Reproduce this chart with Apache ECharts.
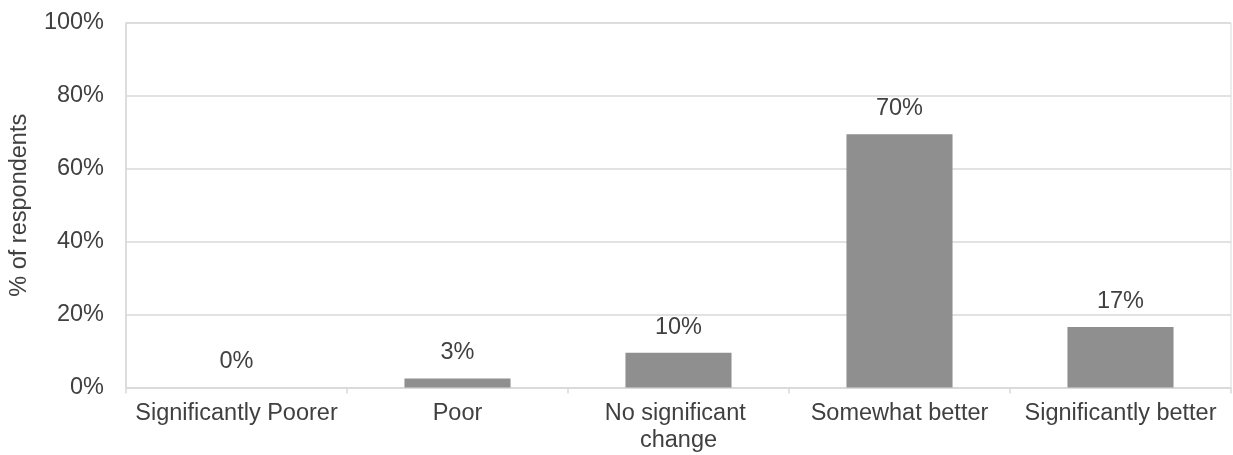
<!DOCTYPE html>
<html>
<head>
<meta charset="utf-8">
<script src="https://cdn.jsdelivr.net/npm/echarts@6/dist/echarts.min.js"></script>
<style>
  html, body { margin: 0; padding: 0; background: #ffffff; }
  #chart { width: 1233px; height: 455px; }
</style>
</head>
<body>
<div id="chart"></div>
<script>
// Survey responses: share of respondents per rating
const categories = ['Significantly Poorer', 'Poor', 'No significant change', 'Somewhat better', 'Significantly better'];
const shares = [0, 2.5, 9.5, 69.5, 16.6];
const yTicks = [0, 20, 40, 60, 80, 100];

const FONT = '"Liberation Sans", Arial, sans-serif';
const TEXT = '#404040';
const LINE = '#d9d9d9';

const chart = echarts.init(document.getElementById('chart'), null, { renderer: 'canvas' });

chart.setOption({
  animation: false,
  backgroundColor: '#ffffff',
  grid: {
    left: 123.5, right: 2, top: 23, bottom: 67.5,
    show: true, borderColor: LINE, borderWidth: 1
  },
  xAxis: {
    type: 'category',
    data: categories,
    boundaryGap: true,
    axisLine: { show: true, lineStyle: { color: LINE, width: 1.5 } },
    axisTick: { show: true, length: 6, lineStyle: { color: LINE, width: 1.5 } },
    axisLabel: {
      interval: 0,
      margin: 13,
      color: TEXT,
      fontFamily: FONT,
      fontSize: 23.5,
      lineHeight: 27,
      width: 210,
      overflow: 'break'
    }
  },
  yAxis: {
    type: 'value',
    min: yTicks[0],
    max: yTicks[yTicks.length - 1],
    interval: yTicks[1] - yTicks[0],
    name: '% of respondents',
    nameLocation: 'middle',
    nameGap: 94,
    nameTextStyle: { color: TEXT, fontFamily: FONT, fontSize: 23.5 },
    axisLine: { show: true, lineStyle: { color: LINE, width: 1.5 } },
    axisTick: { show: false },
    splitLine: { show: true, lineStyle: { color: LINE, width: 1.5 } },
    axisLabel: {
      margin: 22,
      color: TEXT,
      fontFamily: FONT,
      fontSize: 23.5,
      formatter: v => v + '%'
    }
  },
  series: [{
    type: 'bar',
    data: shares,
    barWidth: '48%',
    itemStyle: { color: '#8f8f8f' },
    label: {
      show: true,
      position: 'top',
      distance: 13.5,
      color: TEXT,
      fontFamily: FONT,
      fontSize: 23.5,
      formatter: p => Math.round(p.value) + '%'
    }
  }]
});
</script>
</body>
</html>
